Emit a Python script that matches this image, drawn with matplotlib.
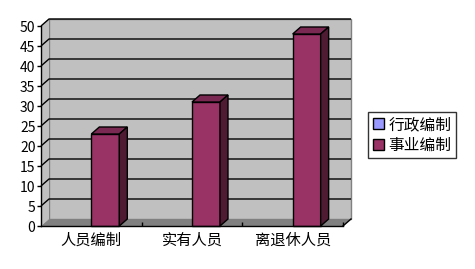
import numpy as np
import matplotlib
matplotlib.use('Agg')
import matplotlib.pyplot as plt
from matplotlib.patches import Polygon, Patch

plt.rcParams['font.family'] = ['Noto Sans CJK SC', 'DejaVu Sans']

categories = ['人员编制', '实有人员', '离退休人员']
series_names = ['行政编制', '事业编制']
xingzheng = [0, 0, 0]
shiye = [23, 31, 48]
yticks = list(range(0, 51, 5))

colors = ['#9999FF', '#993366']
tops = ['#7C7CCF', '#7A2952']
sides = ['#4D4D80', '#4F1B33']

fig = plt.figure(figsize=(4.75, 2.69), dpi=100)
ax = fig.add_axes([41 / 475, 43 / 269, 302 / 475, 200 / 269])
ax.set_xlim(-0.5, len(categories) - 0.5)
ax.set_ylim(0, 50)
ax.patch.set_visible(False)

# depth of the fake 3d box, in data units (about 8 px right, 7 px up)
dx = 8 / (302 / 3)
dy = 7 / 4
x0, x1 = -0.5, len(categories) - 0.5

# back wall, side wall, floor
ax.add_patch(Polygon([(x0 + dx, dy), (x1 + dx, dy), (x1 + dx, 50 + dy), (x0 + dx, 50 + dy)],
                     closed=True, fc='#C0C0C0', ec='#808080', lw=1, clip_on=False, zorder=0))
ax.add_patch(Polygon([(x0, 0), (x0 + dx, dy), (x0 + dx, 50 + dy), (x0, 50)],
                     closed=True, fc='#C0C0C0', ec='none', clip_on=False, zorder=0))
for v in yticks[1:]:
    ax.plot([x0, x0 + dx, x1 + dx], [v, v + dy, v + dy], color='black', lw=1,
            clip_on=False, zorder=1, solid_capstyle='butt')
ax.add_patch(Polygon([(x0, 0), (x1, 0), (x1 + dx, dy), (x0 + dx, dy)],
                     closed=True, fc='#808080', ec='none', clip_on=False, zorder=1))
ax.plot([x1, x1 + dx], [0, dy], color='black', lw=1, clip_on=False, zorder=1)

# bars
w = 0.278
x = np.arange(len(categories))
for i, vals in enumerate([xingzheng, shiye]):
    xs = x + (i - 1) * w + w / 2
    for xc, v in zip(xs, vals):
        if v <= 0:
            continue
        l, r = xc - w / 2, xc + w / 2
        ax.add_patch(Polygon([(l, 0), (r, 0), (r, v), (l, v)], closed=True,
                             fc=colors[i], ec='black', lw=1, clip_on=False, zorder=3))
        ax.add_patch(Polygon([(l, v), (r, v), (r + dx, v + dy), (l + dx, v + dy)], closed=True,
                             fc=tops[i], ec='black', lw=1, clip_on=False, zorder=3))
        ax.add_patch(Polygon([(r, 0), (r + dx, dy), (r + dx, v + dy), (r, v)], closed=True,
                             fc=sides[i], ec='black', lw=1, clip_on=False, zorder=3))

for s in ['top', 'right']:
    ax.spines[s].set_visible(False)
for s in ['left', 'bottom']:
    ax.spines[s].set_color('black')
    ax.spines[s].set_linewidth(1)
    ax.spines[s].set_zorder(4)

ax.set_yticks(yticks)
ax.tick_params(axis='y', length=3, width=1, pad=1, labelsize=10)
ax.set_xticks(x)
ax.set_xticklabels(categories, fontsize=11)
ax.tick_params(axis='x', length=0, pad=4)
ax.set_xticks([0.5, 1.5, 2.5], minor=True)
ax.tick_params(axis='x', which='minor', length=3, width=1, direction='in')

handles = [Patch(fc=colors[i], ec='black', lw=1) for i in range(2)]
leg = fig.legend(handles, series_names, loc='center left', bbox_to_anchor=(368 / 475, 134 / 269),
                 fontsize=11.3, frameon=True, fancybox=False, handlelength=0.7, handleheight=0.7,
                 handletextpad=0.3, borderpad=0.3, labelspacing=0.2, borderaxespad=0)
leg.get_frame().set_edgecolor('black')
leg.get_frame().set_linewidth(1)

fig.savefig('out.png', dpi=100, facecolor='white')
